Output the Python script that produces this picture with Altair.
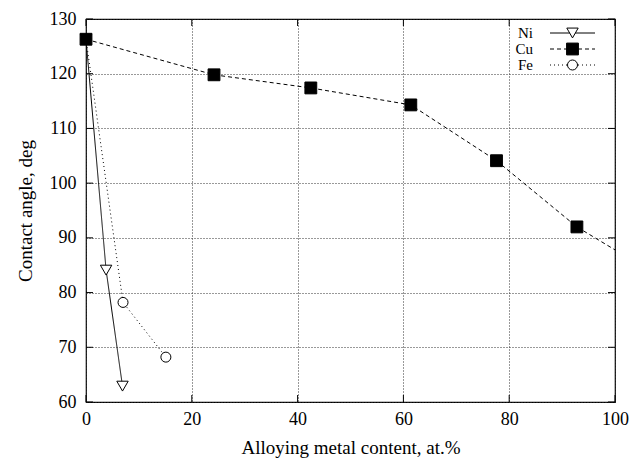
import altair as alt
import pandas as pd

# ---- data ----
series_names = ["Ni", "Cu", "Fe"]

ni_x = [0, 3.8, 6.9]
ni_y = [126.3, 84.1, 62.9]

cu_x = [0, 24.2, 42.5, 61.4, 77.6, 92.8, 100]
cu_y = [126.3, 119.8, 117.4, 114.3, 104.1, 92.0, 87.8]
cu_marker = [True, True, True, True, True, True, False]

fe_x = [0, 7.0, 15.1]
fe_y = [126.3, 78.2, 68.2]

x_ticks = [0, 20, 40, 60, 80, 100]
y_ticks = [60, 70, 80, 90, 100, 110, 120, 130]

FONT = "Liberation Serif"
W, H = 529, 383
TL = 7  # inward tick length

ni = pd.DataFrame({"x": ni_x, "y": ni_y, "m": [True] * len(ni_x)})
cu = pd.DataFrame({"x": cu_x, "y": cu_y, "m": cu_marker})
fe = pd.DataFrame({"x": fe_x, "y": fe_y, "m": [True] * len(fe_x)})

xs = alt.Scale(domain=[0, 100], nice=False, zero=False)
ys = alt.Scale(domain=[60, 130], nice=False, zero=False)

xax = alt.Axis(values=x_ticks, title="Alloying metal content, at.%", grid=True,
               gridDash=[1, 2], gridColor="#333", gridWidth=1, ticks=False,
               domain=False, labelFont=FONT, labelFontSize=18, labelColor="black",
               labelPadding=8, titleFont=FONT, titleFontSize=19, titleFontWeight="normal",
               titleColor="black", titlePadding=10, labelFlush=False)
yax = alt.Axis(values=y_ticks, title="Contact angle, deg", grid=True,
               gridDash=[1, 2], gridColor="#333", gridWidth=1, ticks=False,
               domain=False, labelFont=FONT, labelFontSize=18, labelColor="black",
               labelPadding=10, titleFont=FONT, titleFontSize=19, titleFontWeight="normal",
               titleColor="black", titlePadding=14, labelFlush=False)

styles = {
    "Ni": dict(dash=[1, 0], shape="triangle-down", filled=False, size=130),
    "Cu": dict(dash=[4, 3], shape="square", filled=True, size=140),
    "Fe": dict(dash=[1, 3], shape="circle", filled=False, size=100),
}

enc_x = alt.X("x:Q", scale=xs, axis=xax)
enc_y = alt.Y("y:Q", scale=ys, axis=yax)


def series_layers(df, name):
    st = styles[name]
    line = alt.Chart(df).mark_line(color="black", strokeWidth=1, strokeDash=st["dash"],
                                   clip=True).encode(x=enc_x, y=enc_y)
    pts = alt.Chart(df).transform_filter("datum.m").mark_point(
        shape=st["shape"], size=st["size"], filled=st["filled"],
        fill="black" if st["filled"] else "white", fillOpacity=1,
        stroke="black", strokeWidth=1, opacity=1).encode(x=enc_x, y=enc_y)
    return [line, pts]


# inward ticks on all four sides (gnuplot style)
xt = pd.DataFrame({"x": x_ticks})
yt = pd.DataFrame({"y": y_ticks})
tick_layers = [
    alt.Chart(xt).mark_rule(color="black", strokeWidth=1).encode(
        x=enc_x, y=alt.value(H), y2=alt.value(H - TL)),
    alt.Chart(xt).mark_rule(color="black", strokeWidth=1).encode(
        x=enc_x, y=alt.value(0), y2=alt.value(TL)),
    alt.Chart(yt).mark_rule(color="black", strokeWidth=1).encode(
        y=enc_y, x=alt.value(0), x2=alt.value(TL)),
    alt.Chart(yt).mark_rule(color="black", strokeWidth=1).encode(
        y=enc_y, x=alt.value(W - TL), x2=alt.value(W)),
]

# custom gnuplot-style legend (pixel positions inside plot area)
legend_layers = []
for i, name in enumerate(series_names):
    st = styles[name]
    ly = 14 + 16 * i
    d = pd.DataFrame({"series": [name]})
    legend_layers.append(alt.Chart(d).mark_text(
        align="right", baseline="middle", font=FONT, fontSize=15, color="black").encode(
        x=alt.value(447), y=alt.value(ly), text="series:N"))
    legend_layers.append(alt.Chart(d).mark_rule(
        color="black", strokeWidth=1, strokeDash=st["dash"]).encode(
        x=alt.value(464), x2=alt.value(509), y=alt.value(ly)))
    legend_layers.append(alt.Chart(d).mark_point(
        shape=st["shape"], size=st["size"], filled=st["filled"],
        fill="black" if st["filled"] else "white", fillOpacity=1,
        stroke="black", strokeWidth=1, opacity=1).encode(
        x=alt.value(486.5), y=alt.value(ly)))

layers = (tick_layers + series_layers(ni, "Ni") + series_layers(fe, "Fe")
          + series_layers(cu, "Cu") + legend_layers)

chart = alt.layer(*layers).properties(
    width=W, height=H,
    autosize=alt.AutoSizeParams(type="none"),
    padding={"left": 86, "top": 19, "right": 18, "bottom": 61},
    background="white",
).configure_view(stroke="black", strokeWidth=1.2)

chart.save("out.html", embed_options={"renderer": "svg", "actions": False})
